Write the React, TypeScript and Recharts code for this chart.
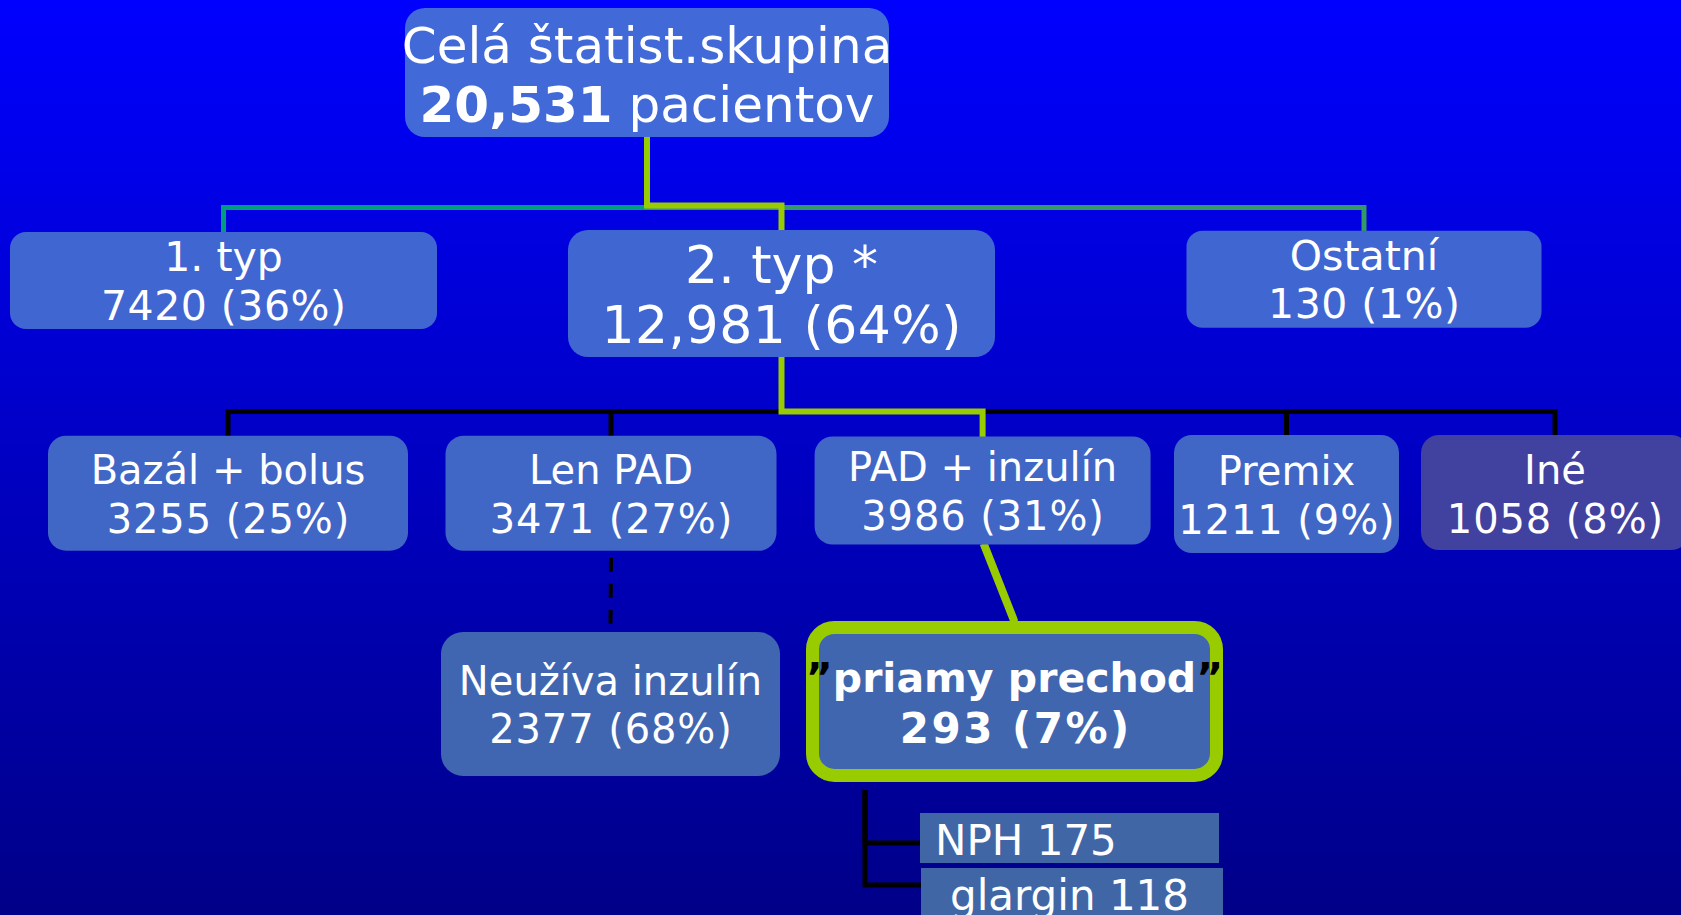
import React from 'react';
import { ScatterChart, Scatter, XAxis, YAxis } from 'recharts';

const W = 1681;
const H = 915;

// ---- data: the tree ----
const nodeNames = [
  'Celá štatist.skupina',
  '1. typ',
  '2. typ *',
  'Ostatní',
  'Bazál + bolus',
  'Len PAD',
  'PAD + inzulín',
  'Premix',
  'Iné',
  'Neužíva inzulín',
  '\u201Dpriamy prechod\u201D',
  'NPH',
  'glargin',
];
const nodeCounts = ['20,531', '7420', '12,981', '130', '3255', '3471', '3986', '1211', '1058', '2377', '293', '175', '118'];
const nodeShares = ['', '36%', '64%', '1%', '25%', '27%', '31%', '9%', '8%', '68%', '7%', '', ''];
const nodeParents = [-1, 0, 0, 0, 2, 2, 2, 2, 2, 5, 6, 10, 10];
const rootUnit = 'pacientov';

// ---- layout (chart domain = pixel space) ----
const layoutCx = [647, 223.5, 781.5, 1364, 228, 611, 982.6, 1286.5, 1555, 610.5, 1014.5, 1069.5, 1072];
const layoutCy = [72.5, 280.5, 293.5, 279.2, 493.2, 493.3, 490.5, 494, 492.5, 704, 701.4, 838, 893];
const layoutW = [484, 427, 427, 355, 360, 331, 336, 225, 268, 339, 417, 299, 302];
const layoutH = [129, 97, 127, 97, 115, 115, 108, 118, 115, 144, 161, 50, 50];
const layoutKind = ['root', 'l1', 'l1big', 'l1', 'l2', 'l2', 'l2', 'l2', 'ine', 'l3', 'hl', 'leaf', 'leaf'];
const leafInset = [0, 0, 0, 0, 0, 0, 0, 0, 0, 0, 0, 15, 29];

const KIND: Record<string, any> = {
  root: { fill: '#4169d8', r: 20, fs: 50, lh: 59, dy: 1.5, ls: 0 },
  l1: { fill: '#4066d2', r: 16, fs: 41, lh: 48.3, dy: 0, ls: 0.5 },
  l1big: { fill: '#4066d2', r: 20, fs: 52, lh: 60, dy: 0.5, ls: 0.5 },
  l2: { fill: '#4066c6', r: 18, fs: 40, lh: 49, dy: 0.5, ls: 0.9 },
  ine: { fill: '#4141a0', r: 18, fs: 40, lh: 49, dy: 1, ls: 0.9 },
  l3: { fill: '#4066b2', r: 22, fs: 40, lh: 48, dy: 0, ls: 0.9 },
  hl: { fill: '#4066b0', stroke: '#99cc00', sw: 13, r: 22, fs: 41, lh: 51, dy: 1, bold: true, ls: 2.5 },
  leaf: { fill: '#4066a6', r: 0, fs: 42, lh: 0, dy: 1.5, ls: 0 },
};

const YELLOW = '#99cc00';
const TEAL = '#009c80';
const GREEN = '#339966';
const BLACK = '#000000';
const FONT = '"DejaVu Sans", Verdana, sans-serif';

const nodes = nodeNames.map((name, i) => ({
  x: layoutCx[i],
  y: layoutCy[i],
  w: layoutW[i],
  h: layoutH[i],
  kind: layoutKind[i],
  inset: leafInset[i],
  name,
  count: nodeCounts[i],
  share: nodeShares[i],
  idx: i,
}));

const top = (i: number) => layoutCy[i] - layoutH[i] / 2;
const bottom = (i: number) => layoutCy[i] + layoutH[i] / 2;
const left = (i: number) => layoutCx[i] - layoutW[i] / 2;

// connectors derived from parent/child layout
type Conn = { pts: { x: number; y: number }[]; stroke: string; width: number; dash?: string };
const edgeColor = (child: number) => {
  if (child === 1) return TEAL;
  if (child === 3) return GREEN;
  if (child === 2 || child === 6 || child === 10) return YELLOW;
  return BLACK;
};
const conns: Conn[] = [];
nodeParents.forEach((p, c) => {
  if (p < 0) return;
  const color = edgeColor(c);
  const px = layoutCx[p];
  const cx = layoutCx[c];
  if (p === 0 || p === 2) {
    const bus = p === 0 ? (color === YELLOW ? 205.5 : 207.5) : 411.5;
    conns.push({
      pts: [
        { x: px, y: bottom(p) },
        { x: px, y: bus },
        { x: cx, y: bus },
        { x: cx, y: top(c) + 2 },
      ],
      stroke: color,
      width: color === YELLOW ? 6 : 5,
    });
  } else if (p === 5) {
    conns.push({
      pts: [
        { x: px, y: bottom(p) + 7 },
        { x: cx, y: top(c) - 8 },
      ],
      stroke: BLACK,
      width: 4,
      dash: '14 12',
    });
  } else if (p === 6) {
    conns.push({
      pts: [
        { x: px + 1, y: bottom(p) - 1 },
        { x: cx, y: top(c) + 1 },
      ],
      stroke: YELLOW,
      width: 8,
    });
  } else if (p === 10) {
    const bx = left(p) + 59;
    const by = c === 11 ? layoutCy[c] + 5 : layoutCy[c] - 8;
    conns.push({
      pts: [
        { x: bx, y: bottom(p) + 8 },
        { x: bx, y: by },
        { x: left(c) + 1, y: by },
      ],
      stroke: BLACK,
      width: 5,
    });
  }
});
// draw highlighted (yellow) paths last
const connOrder = [...conns.filter((c) => c.stroke !== YELLOW), ...conns.filter((c) => c.stroke === YELLOW)];

const Empty = () => <g />;

const NodeShape = (props: any) => {
  const { cx, cy, payload } = props;
  if (cx == null || cy == null) return <g />;
  const st = KIND[payload.kind];
  const w = payload.w;
  const h = payload.h;
  const x0 = cx - w / 2;
  const y0 = cy - h / 2;
  const cap = st.fs * 0.729;
  const b1 = cy - st.lh / 2 + cap / 2 + st.dy;
  const b2 = b1 + st.lh;
  const common = {
    fontFamily: FONT,
    fontSize: st.fs,
    fill: '#ffffff',
  };
  let rect;
  if (st.stroke) {
    const s = st.sw / 2;
    rect = (
      <rect x={x0 + s} y={y0 + s} width={w - st.sw} height={h - st.sw} rx={st.r} ry={st.r} fill={st.fill} stroke={st.stroke} strokeWidth={st.sw} />
    );
  } else {
    rect = <rect x={x0} y={y0} width={w} height={h} rx={st.r} ry={st.r} fill={st.fill} />;
  }
  let texts;
  if (payload.kind === 'leaf') {
    texts = (
      <text x={x0 + payload.inset} y={cy + cap / 2 + st.dy} {...common} textAnchor="start">
        {`${payload.name} ${payload.count}`}
      </text>
    );
  } else if (payload.kind === 'root') {
    texts = (
      <>
        <text x={cx} y={b1} {...common} textAnchor="middle">{payload.name}</text>
        <text x={cx} y={b2} {...common} textAnchor="middle">
          <tspan fontWeight="bold">{payload.count}</tspan>
          <tspan>{` ${rootUnit}`}</tspan>
        </text>
      </>
    );
  } else if (payload.kind === 'hl') {
    const inner = payload.name.replace(/\u201D/g, '');
    return (
      <g>
        {rect}
        <text x={cx} y={b1} {...common} fontWeight="bold" textAnchor="middle">
          <tspan fill="#000000">{'\u201D'}</tspan>
          <tspan>{inner}</tspan>
          <tspan fill="#000000">{'\u201D'}</tspan>
        </text>
        <text x={cx + st.ls / 2} y={b2} {...common} fontSize={st.fs + 1} letterSpacing={st.ls} fontWeight="bold" textAnchor="middle">
          {`${payload.count} (${payload.share})`}
        </text>
      </g>
    );
  } else {
    texts = (
      <>
        <text x={cx} y={b1} {...common} textAnchor="middle">{payload.name}</text>
        <text x={cx + st.ls / 2} y={b2} {...common} letterSpacing={st.ls} textAnchor="middle">
          {`${payload.count} (${payload.share})`}
        </text>
      </>
    );
  }
  return (
    <g>
      {rect}
      {texts}
    </g>
  );
};

export default function App() {
  return (
    <div
      style={{
        position: 'fixed',
        left: 0,
        top: 0,
        width: W,
        height: H,
        overflow: 'hidden',
        background: 'linear-gradient(to bottom, #0000ff 0%, #0000c4 50%, #000088 100%)',
      }}
    >
      <ScatterChart width={W} height={H} margin={{ top: 0, right: 0, bottom: 0, left: 0 }}>
        <XAxis type="number" dataKey="x" domain={[0, W]} allowDataOverflow hide />
        <YAxis type="number" dataKey="y" domain={[0, H]} reversed allowDataOverflow hide />
        {connOrder.map((c, i) => (
          <Scatter
            key={`c${i}`}
            data={c.pts}
            isAnimationActive={false}
            shape={Empty}
            legendType="none"
            line={{ stroke: c.stroke, strokeWidth: c.width, strokeDasharray: c.dash, strokeLinejoin: 'miter' } as any}
            lineType="joint"
          />
        ))}
        <Scatter data={nodes} isAnimationActive={false} shape={NodeShape} legendType="none" />
      </ScatterChart>
    </div>
  );
}
